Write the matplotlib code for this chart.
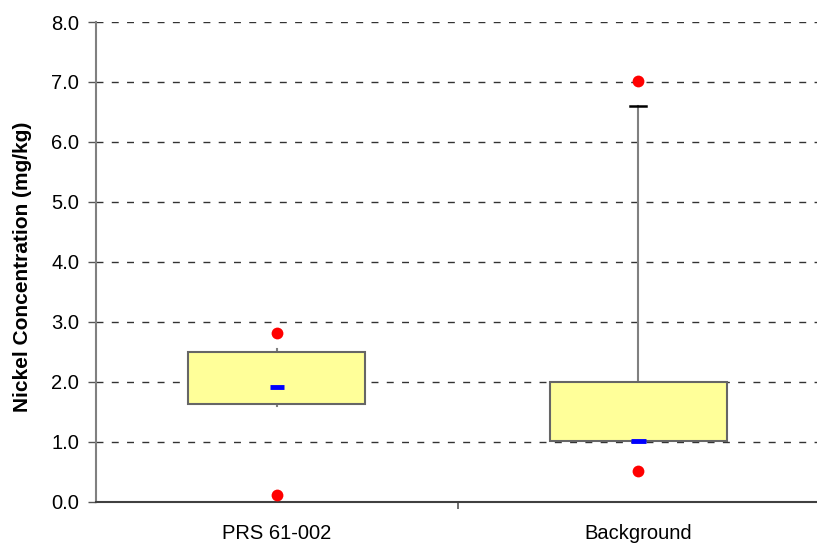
import matplotlib.pyplot as plt
from matplotlib.patches import Rectangle

plt.rcParams['font.family'] = ['Liberation Sans', 'DejaVu Sans']

# summary stats per location (mg/kg)
sites = ['PRS 61-002', 'Background']
q1 = [1.63, 1.02]
q3 = [2.50, 2.00]
medians = [1.92, 1.02]
whisk_lo = [1.60, 1.02]
whisk_hi = [2.55, 6.60]
minimums = [0.12, 0.52]
maximums = [2.82, 7.02]

fig = plt.figure(figsize=(8.17, 5.5), dpi=100)
ax = fig.add_axes([0.1175, 0.0873, 0.885, 0.8727])

ax.set_xlim(0, 2)
ax.set_ylim(0, 8)
ax.set_yticks(range(0, 9))
ax.set_yticklabels(['%.1f' % v for v in range(0, 9)])
ax.yaxis.grid(True, linestyle=(0, (5, 6)), color='#333333', linewidth=1.0)
ax.set_axisbelow(True)

w = 0.49
for i in range(len(sites)):
    x = i + 0.5
    # whiskers
    ax.plot([x, x], [q3[i], whisk_hi[i]], color='#808080', lw=1.5, zorder=2)
    ax.plot([x, x], [whisk_lo[i], q1[i]], color='#808080', lw=1.5, zorder=2)
    if whisk_hi[i] - q3[i] > 0.2:
        ax.plot([x - 0.022, x + 0.022], [whisk_hi[i]] * 2, color='black', lw=1.8, zorder=3)
    ax.add_patch(Rectangle((x - w / 2, q1[i]), w, q3[i] - q1[i], facecolor='#ffff99',
                           edgecolor='#666666', lw=1.5, zorder=3))
    ax.plot([x - 0.02, x + 0.02], [medians[i]] * 2, color='#0000ff', lw=3.5,
            solid_capstyle='butt', zorder=4)
    ax.plot([x, x], [minimums[i], maximums[i]], 'o', color='#ff0000', ms=8.5,
            markeredgewidth=0, zorder=5, clip_on=False)

ax.set_xticks([1])
ax.set_xticklabels([''])
ax.set_xticks([0.5, 1.5], minor=True)
ax.set_xticklabels(sites, minor=True, fontsize=14.5)
ax.tick_params(axis='x', which='minor', length=0, pad=16)
ax.tick_params(axis='x', which='major', length=5, width=1.2, color='#555555')
ax.tick_params(axis='y', length=6, width=1, color='#555555', labelsize=14.5, pad=6)

ax.spines['top'].set_visible(False)
ax.spines['right'].set_visible(False)
ax.spines['left'].set_color('#808080')
ax.spines['left'].set_linewidth(1.5)
ax.spines['bottom'].set_color('#404040')
ax.spines['bottom'].set_linewidth(1.5)

ax.set_ylabel('Nickel Concentration (mg/kg)', fontsize=15, fontweight='bold')
ax.yaxis.set_label_coords(-0.088, 0.49)

fig.savefig('out.png', dpi=100)
